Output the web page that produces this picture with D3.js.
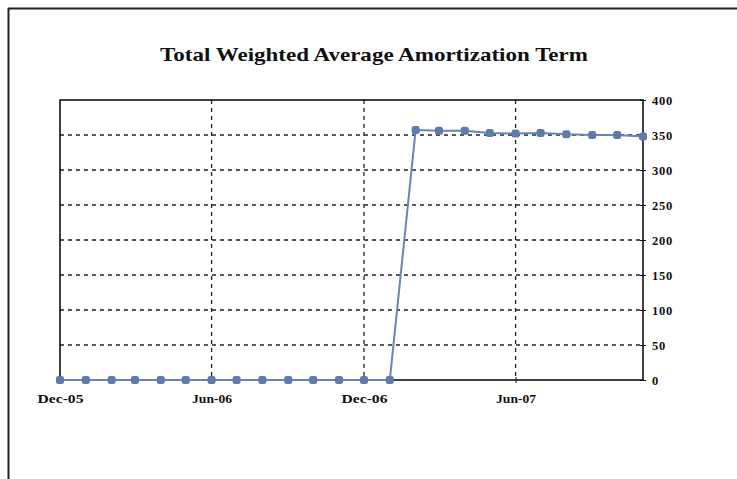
<!DOCTYPE html>
<html>
<head>
<meta charset="utf-8">
<script src="https://cdn.jsdelivr.net/npm/d3@7"></script>
<style>
  html, body { margin: 0; padding: 0; background: #fff; }
  svg { display: block; }
</style>
</head>
<body>
<script>
// Monthly observation dates (first of month)
const months = [
  "2005-12", "2006-01", "2006-02", "2006-03", "2006-04", "2006-05",
  "2006-06", "2006-07", "2006-08", "2006-09", "2006-10", "2006-11",
  "2006-12", "2007-01", "2007-02", "2007-03", "2007-04", "2007-05",
  "2007-06", "2007-07", "2007-08", "2007-09", "2007-10", "2007-11"
];
// Weighted average amortization term (months)
const termValues = [
  0, 0, 0, 0, 0, 0, 0, 0, 0, 0, 0, 0, 0, 0,
  357, 356, 356, 353, 352, 353, 351, 350, 350, 348
];
const xTickDates = ["2005-12", "2006-06", "2006-12", "2007-06"];
const xTickLabels = ["Dec-05", "Jun-06", "Dec-06", "Jun-07"];
const yTicks = [0, 50, 100, 150, 200, 250, 300, 350, 400];
const chartTitle = "Total Weighted Average Amortization Term";

const W = 737, H = 479;
const plot = { left: 60, right: 643, top: 100, bottom: 380 };
const serif = "'Liberation Serif', 'Times New Roman', serif";
const parse = d3.timeParse("%Y-%m");
const data = months.map((m, i) => ({ date: parse(m), value: termValues[i] }));

const svg = d3.select("body").append("svg").attr("width", W).attr("height", H);

// outer chart frame (top and left edges visible)
svg.append("line").attr("x1", 8).attr("y1", 8.5).attr("x2", W).attr("y2", 8.5)
  .attr("stroke", "#222").attr("stroke-width", 2);
svg.append("line").attr("x1", 8.5).attr("y1", 8).attr("x2", 8.5).attr("y2", H)
  .attr("stroke", "#222").attr("stroke-width", 2);

const x = d3.scaleTime()
  .domain([parse(months[0]), parse(months[months.length - 1])])
  .range([plot.left, plot.right]);
const y = d3.scaleLinear().domain([0, 400]).range([plot.bottom, plot.top]);

// title
svg.append("text")
  .attr("x", 374).attr("y", 61)
  .attr("text-anchor", "middle")
  .attr("font-family", serif)
  .attr("font-weight", "bold").attr("font-size", 19)
  .attr("textLength", 428).attr("lengthAdjust", "spacingAndGlyphs")
  .attr("fill", "#111")
  .text(chartTitle);

// horizontal dashed gridlines
svg.append("g").selectAll("line")
  .data(yTicks.filter(v => v > 0 && v < 400))
  .join("line")
  .attr("x1", plot.left).attr("x2", plot.right)
  .attr("y1", d => y(d)).attr("y2", d => y(d))
  .attr("stroke", "#222").attr("stroke-width", 1.3)
  .attr("stroke-dasharray", "4,4");

// vertical dashed gridlines
svg.append("g").selectAll("line")
  .data(xTickDates.slice(1).map(parse))
  .join("line")
  .attr("x1", d => x(d)).attr("x2", d => x(d))
  .attr("y1", plot.top).attr("y2", plot.bottom)
  .attr("stroke", "#222").attr("stroke-width", 1.3)
  .attr("stroke-dasharray", "4,4");

// plot border
svg.append("rect")
  .attr("x", plot.left).attr("y", plot.top)
  .attr("width", plot.right - plot.left).attr("height", plot.bottom - plot.top)
  .attr("fill", "none").attr("stroke", "#111").attr("stroke-width", 1.6);

// right value axis
const yAxis = d3.axisRight(y).tickValues(yTicks).tickSize(4).tickPadding(5);
const gy = svg.append("g").attr("transform", `translate(${plot.right},0)`).call(yAxis);
gy.select(".domain").remove();
gy.selectAll("line").attr("stroke", "#111").attr("x1", -3).attr("x2", 3);
gy.selectAll("text")
  .attr("font-family", serif)
  .attr("font-weight", "bold").attr("font-size", 12.5)
  .attr("letter-spacing", 0.8)
  .attr("fill", "#111");

// bottom date axis
const xAxis = d3.axisBottom(x)
  .tickValues(xTickDates.map(parse))
  .tickFormat((d, i) => xTickLabels[i])
  .tickSize(4).tickPadding(6);
const gx = svg.append("g").attr("transform", `translate(0,${plot.bottom})`).call(xAxis);
gx.select(".domain").remove();
gx.selectAll("line").attr("stroke", "#111").attr("y1", -3).attr("y2", 3);
gx.selectAll("text")
  .attr("dy", null).attr("y", 23)
  .attr("font-family", serif)
  .attr("font-weight", "bold").attr("font-size", 13)
  .attr("textLength", (d, i) => xTickLabels[i].startsWith("Dec") ? 46 : 40)
  .attr("lengthAdjust", "spacingAndGlyphs")
  .attr("fill", "#111");

// series line
const line = d3.line().x(d => x(d.date)).y(d => y(d.value));
svg.append("path").datum(data)
  .attr("d", line)
  .attr("fill", "none").attr("stroke", "#6a84b4").attr("stroke-width", 2);

// series markers
svg.append("g").selectAll("rect")
  .data(data)
  .join("rect")
  .attr("x", d => x(d.date) - 4).attr("y", d => y(d.value) - 4)
  .attr("width", 8).attr("height", 8).attr("rx", 2.5)
  .attr("fill", "#5f7bab");
</script>
</body>
</html>
